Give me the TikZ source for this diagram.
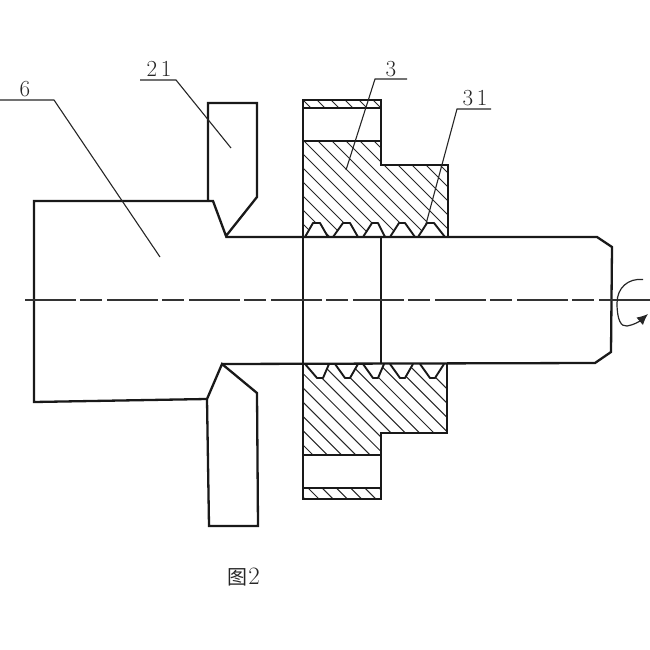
\documentclass[tikz,border=0pt]{standalone}
\usepackage{fontspec}
\newfontfamily\cjk{Noto Sans CJK SC}[Scale=1]
\usetikzlibrary{arrows.meta}
\tikzset{
  part/.style={line width=2.3pt,line join=miter,draw=black!90},
  thin part/.style={line width=1.9pt,draw=black!90},
  leader/.style={line width=1.1pt,draw=black!85},
  hatch/.style={line width=1pt,draw=black!85},
  axis/.style={line width=1.2pt,draw=black!80,dash pattern=on 50.8pt off 4.2pt on 22pt off 5pt},
  lbl/.style={font=\fontsize{23}{23}\selectfont,inner sep=0pt,text=black!85},
}
\begin{document}
\begin{tikzpicture}[x=1pt,y=-1pt]
\useasboundingbox (0,0) rectangle (650,650);
% hatching
\begin{scope}
\clip (303,108) rectangle (381,100);
\foreach \k in {-8,...,12} \draw[hatch] ({217+14*\k},0) ++(-100,-100) -- ++(800,800);
\end{scope}
\begin{scope}
\clip (303,141) -- (381,141) -- (381,165) -- (448,165) -- (448,237)
 -- (445,237) -- (434,223) -- (427,223) -- (418,237)
 -- (415,237) -- (405,223) -- (399,223) -- (390,237)
 -- (385,237) -- (378,223) -- (372,223) -- (363,237)
 -- (358,237) -- (350,223) -- (343,223) -- (333,237)
 -- (328,237) -- (320,223) -- (313,223) -- (305,237) -- (303,237) -- cycle;
\foreach \k in {-12,...,12} \draw[hatch] ({177+14*\k+141},141) ++(-200,-200) -- ++(800,800);
\end{scope}
\begin{scope}
\clip (303,364) -- (305,364) -- (317,378) -- (323,378) -- (329,364)
 -- (335,364) -- (345,378) -- (350,378) -- (358,364)
 -- (363,364) -- (373,378) -- (378,378) -- (384,364)
 -- (390,364) -- (400,378) -- (405,378) -- (413,364)
 -- (420,364) -- (430,378) -- (435,378) -- (444,364)
 -- (447,364) -- (447,433) -- (381,433) -- (381,455) -- (303,455) -- cycle;
\foreach \k in {-8,...,14} \draw[hatch] ({-142+14.3*\k+455},455) ++(-300,-300) -- ++(600,600);
\end{scope}
\begin{scope}
\clip (303,488) rectangle (381,499);
\foreach \k in {-2,...,10} \draw[hatch] ({-180+14.2*\k+488},488) ++(-50,-50) -- ++(100,100);
\end{scope}
% upper gear
\draw[part] (303,237) -- (303,100) -- (381,100) -- (381,165) -- (448,165) -- (448,237);
\draw[thin part] (303,108) -- (381,108) (303,141) -- (381,141);
\draw[thin part,line join=round] (305,237) -- (313,223) -- (320,223) -- (328,237)
 (333,237) -- (343,223) -- (350,223) -- (358,237)
 (363,237) -- (372,223) -- (378,223) -- (385,237)
 (390,237) -- (399,223) -- (405,223) -- (415,237)
 (418,237) -- (427,223) -- (434,223) -- (445,237);
% lower gear
\draw[part] (303,364) -- (303,499) -- (381,499) -- (381,433) -- (447,433) -- (447,364);
\draw[thin part] (303,488) -- (381,488) (303,455) -- (381,455);
\draw[thin part,line join=round] (305,364) -- (317,378) -- (323,378) -- (329,364)
 (335,364) -- (345,378) -- (350,378) -- (358,364)
 (363,364) -- (373,378) -- (378,378) -- (384,364)
 (390,364) -- (400,378) -- (405,378) -- (413,364)
 (420,364) -- (430,378) -- (435,378) -- (444,364);
% bore
\draw[thin part] (303,237) -- (303,364) (381,237) -- (381,364);
% tools
\draw[part] (208,201) -- (208,103) -- (257,103) -- (257,197) -- (226,236) -- (213,201) -- (208,201);
\draw[part] (207,399) -- (222,364) -- (257,393) -- (258,526) -- (209,526) -- cycle;
% workpiece
\draw[part] (208,201) -- (34,201) -- (34,402) -- (207,399);
\draw[part] (226,237) -- (597,237) -- (612,247) -- (611,352) -- (595,363) -- (222,364);
% axis
\draw[axis] (25,300) -- (650,300);
% rotation arrow
\draw[line width=1.2pt,draw=black!85,-{Latex[length=11pt,width=10pt]}] (643,279.5) .. controls (628,278) and (617,288) .. (617,303) .. controls (617,320) and (621,327) .. (627,326) .. controls (634,325) and (640,321) .. (648,314);
% labels and leaders
\node[lbl] (n6) at (25,89) {6};
\node[lbl] (n21) at (159,69) {2\,1};
\node[lbl] (n3) at (391,69) {3};
\node[lbl] (n31) at (475,98) {3\,1};
\coordinate (l6a) at (0,100); \coordinate (l6b) at (54,100); \coordinate (l6c) at (160,257);
\coordinate (l21a) at (140,80); \coordinate (l21b) at (176,80); \coordinate (l21c) at (231,148);
\coordinate (l3a) at (407,79); \coordinate (l3b) at (375,79); \coordinate (l3c) at (346,170);
\coordinate (l31a) at (491,109); \coordinate (l31b) at (457,109); \coordinate (l31c) at (426,224);
\draw[leader] (l6a) -- (l6b) -- (l6c);
\draw[leader] (l21a) -- (l21b) -- (l21c);
\draw[leader] (l3a) -- (l3b) -- (l3c);
\draw[leader] (l31a) -- (l31b) -- (l31c);
\node[lbl,font=\fontsize{25}{25}\selectfont] (cap) at (243.5,577.5) {{\cjk\fontsize{20}{20}\selectfont 图}\kern1pt 2};
\end{tikzpicture}
\end{document}
